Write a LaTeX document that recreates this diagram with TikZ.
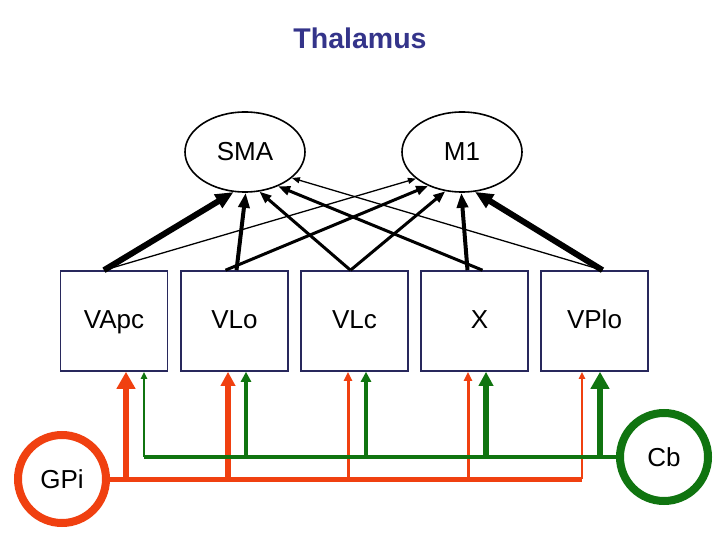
\documentclass[tikz,border=0pt]{standalone}
\usepackage{fontspec}
\setmainfont{Liberation Sans}
\usetikzlibrary{shapes.geometric,arrows.meta,calc}

\definecolor{gpired}{RGB}{240,64,16}
\definecolor{cbgreen}{RGB}{16,116,16}
\definecolor{boxblue}{RGB}{40,40,92}
\definecolor{titleblue}{RGB}{52,52,138}

\tikzstyle{nucleus} = [rectangle, minimum width = 107pt, minimum height = 100pt,
	inner sep = 0pt, text height = 19pt, text depth = 5pt,
	draw = boxblue, line width = 1.6pt, font = \fontsize{26}{30}\selectfont]
\tikzstyle{cortex} = [ellipse, minimum width = 120pt, minimum height = 80pt,
	inner sep = 0pt, draw = black, line width = 1.6pt, font = \fontsize{26}{30}\selectfont]
\tikzstyle{source} = [circle, minimum size = 88pt, inner sep = 0pt,
	line width = 8pt, font = \fontsize{26}{30}\selectfont]
\tikzstyle{projA} = [line width = 1.3pt, -{Triangle[length = 8pt, width = 6pt]}]
\tikzstyle{projB} = [line width = 3pt, -{Triangle[length = 12pt, width = 9pt]}]
\tikzstyle{projC} = [line width = 4pt, -{Triangle[length = 15pt, width = 11pt]}]
\tikzstyle{projD} = [line width = 6pt, -{Triangle[length = 18pt, width = 15pt]}]
\tikzstyle{tapA} = [line width = 2pt, -{Triangle[length = 7pt, width = 6pt]}]
\tikzstyle{tapB} = [line width = 3pt, -{Triangle[length = 9pt, width = 8pt]}]
\tikzstyle{tapC} = [line width = 4pt, -{Triangle[length = 10pt, width = 10pt]}]
\tikzstyle{tapD} = [line width = 5.5pt, -{Triangle[length = 14pt, width = 14pt]}]
\tikzstyle{tapE} = [line width = 6pt, -{Triangle[length = 17pt, width = 18pt]}]

\begin{document}
\begin{tikzpicture}[x = 1pt, y = -1pt]

\useasboundingbox (0,0) rectangle (720,540);

\node (title) at (360,38) [text = titleblue, font = \fontsize{28.5}{32}\selectfont\bfseries] {Thalamus};

% cortex
\node (SMA) at (245,152) [cortex] {SMA};
\node (M1) at (462,152) [cortex] {M1};

% thalamic nuclei
\node (VApc) at (114,321) [nucleus] {VApc};
\node (VLo) at (234.5,321) [nucleus] {VLo};
\node (VLc) at (354.5,321) [nucleus] {VLc};
\node (X) at (474.5,321) [nucleus] {\hspace{10pt}X};
\node (VPlo) at (594.5,321) [nucleus] {VPlo};

% inputs
\node (GPi) at (62,479) [source, draw = gpired] {GPi};
\node (Cb) at (664,457) [source, draw = cbgreen] {Cb};

% thalamus -> cortex
\draw [projD] ($(VApc.north)+(-10,0)$) -- (SMA.-106);
\draw [projA] ($(VApc.north)+(-10,0)$) -- (M1.-150);
\draw [projC] ($(VLo.north)+(2,0)$) -- (SMA.-89);
\draw [projB] ($(VLo.north)+(-9,0)$) -- (M1.-135);
\draw [projB] ($(VLc.north)+(-4,0)$) -- (SMA.-70);
\draw [projB] ($(VLc.north)+(-4,0)$) -- (M1.-113);
\draw [projB] ($(X.north)+(8,0)$) -- (SMA.-46);
\draw [projC] ($(X.north)+(-7,0)$) -- (M1.-91);
\draw [projA] ($(VPlo.north)+(8,0)$) -- (SMA.-29);
\draw [projD] ($(VPlo.north)+(8,0)$) -- (M1.-72);

% GPi taps
\coordinate (r1) at (126,479);
\coordinate (r2) at (228,479);
\coordinate (r3) at (348,479);
\coordinate (r4) at (468,479);
\coordinate (r5) at (582,479);
\draw [gpired, line width = 5pt] (GPi.east) -- (r5);
\draw [gpired, tapE] (r1) -- (r1 |- VApc.south);
\draw [gpired, tapD] (r2) -- (r2 |- VLo.south);
\draw [gpired, tapB] (r3) -- (r3 |- VLc.south);
\draw [gpired, tapB] (r4) -- (r4 |- X.south);
\draw [gpired, tapA] (r5) -- (r5 |- VPlo.south);

% Cb taps
\coordinate (g1) at (144,457);
\coordinate (g2) at (246,457);
\coordinate (g3) at (366,457);
\coordinate (g4) at (486,457);
\coordinate (g5) at (600,457);
\draw [cbgreen, line width = 4pt] (Cb.west) -- (g1);
\draw [cbgreen, tapA] (g1) -- (g1 |- VApc.south);
\draw [cbgreen, tapC] (g2) -- (g2 |- VLo.south);
\draw [cbgreen, tapC] (g3) -- (g3 |- VLc.south);
\draw [cbgreen, tapD] (g4) -- (g4 |- X.south);
\draw [cbgreen, tapE] (g5) -- (g5 |- VPlo.south);

\end{tikzpicture}
\end{document}
